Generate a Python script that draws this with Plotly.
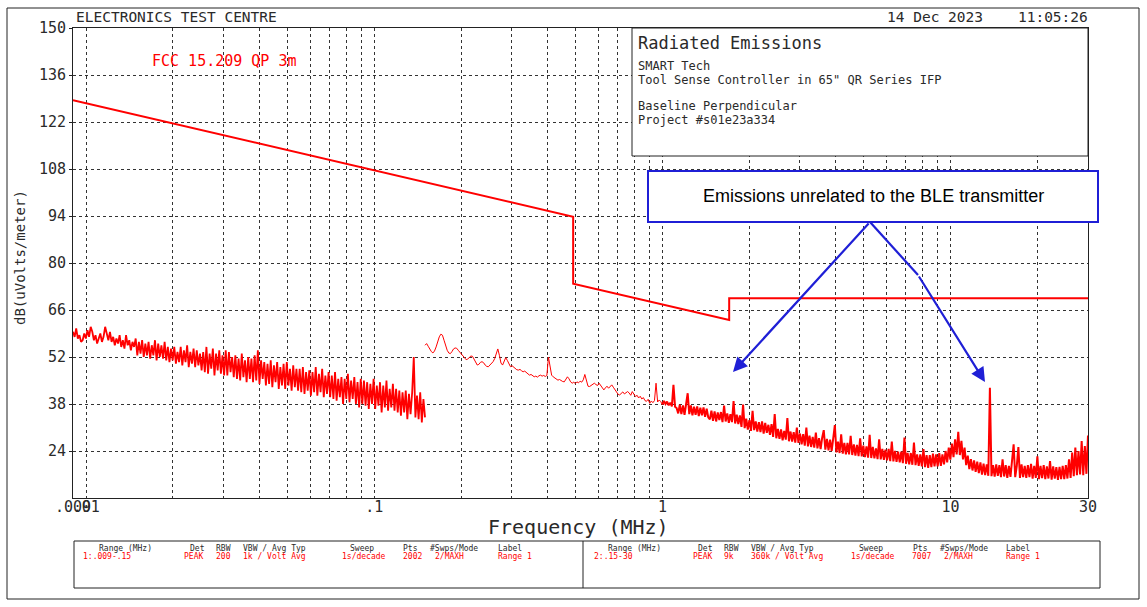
import numpy as np
import plotly.graph_objects as go

# ---------------- data ----------------
# sweep ranges (from the instrument table)
R1_START, R1_STOP = 0.009, 0.15
R2_START, R2_STOP = 0.15, 30.0

range1_level = [
    59.5, 58.0, 60.5, 57.5, 58.5, 56.5, 57.0, 59.0, 57.5, 60.0, 58.0, 61.0, 59.5, 57.0, 58.5, 56.0, 57.5, 59.0, 56.5, 58.0,
    61.0, 58.5, 57.0, 59.5, 56.5, 58.0, 55.5, 57.5, 56.0, 58.5, 55.0, 57.0, 54.5, 58.5, 55.5, 57.0, 54.0, 56.5, 55.0, 57.5,
    52.5, 56.5, 53.0, 57.0, 52.0, 56.0, 52.5, 56.5, 51.5, 55.5, 52.5, 57.0, 51.0, 56.0, 52.0, 55.5, 51.5, 56.5, 51.0, 55.0,
    50.5, 54.5, 51.0, 55.0, 50.0, 53.5, 50.5, 55.0, 49.5, 54.0, 50.5, 55.5, 49.0, 53.5, 50.0, 54.5, 49.0, 54.0, 49.5, 53.0,
    48.0, 53.5, 47.5, 55.0, 47.0, 53.0, 48.5, 54.5, 46.5, 53.0, 48.0, 54.0, 47.0, 52.5, 46.5, 54.0, 46.5, 53.5, 47.5, 52.0,
    46.0, 52.5, 45.5, 51.5, 45.0, 53.0, 46.0, 51.0, 44.5, 52.0, 45.5, 51.5, 44.5, 52.5, 45.0, 54.0, 44.0, 51.0, 45.5, 50.5,
    43.5, 50.0, 44.0, 51.0, 43.0, 49.5, 44.5, 50.5, 42.5, 49.0, 43.5, 50.0, 42.5, 50.5, 43.5, 48.5, 42.0, 49.5, 43.0, 48.5,
    42.0, 48.5, 41.5, 49.0, 41.0, 47.5, 42.0, 48.0, 40.5, 47.5, 41.5, 49.0, 40.5, 47.0, 41.5, 48.5, 40.0, 46.5, 41.0, 47.5,
    40.0, 46.5, 39.5, 47.5, 39.0, 45.5, 40.0, 46.0, 38.0, 45.5, 39.5, 47.0, 38.5, 45.0, 39.5, 46.0, 38.0, 44.5, 37.0, 45.5,
    38.0, 45.0, 37.5, 44.5, 36.5, 44.0, 38.0, 45.5, 36.5, 43.5, 37.5, 44.5, 35.5, 43.5, 37.0, 45.0, 36.0, 42.5, 37.0, 44.0,
    36.0, 42.5, 35.5, 42.0, 34.5, 41.5, 35.5, 42.0, 33.5, 41.0, 35.0, 41.5, 52.0, 34.0, 40.5, 33.5, 41.5, 32.5, 39.5, 34.0,
]

range2_level = [
    55.5, 56.0, 55.2, 54.3, 53.6, 53.2, 53.8, 55.0, 56.6, 58.0, 58.8, 58.5, 57.0, 55.2, 54.0, 53.2, 53.0, 53.6, 54.4, 54.7,
    54.6, 54.0, 53.4, 53.0, 52.5, 51.8, 51.2, 51.4, 51.9, 52.3, 52.2, 51.2, 50.3, 49.6, 49.8, 50.4, 50.6, 50.3, 49.6, 49.2,
    49.1, 49.6, 50.3, 50.6, 51.5, 53.0, 54.4, 52.5, 50.2, 49.6, 50.5, 51.8, 51.0, 49.8, 49.1, 49.4, 48.9, 48.5, 48.2, 48.1,
    48.3, 47.9, 47.6, 47.8, 47.3, 46.9, 46.6, 46.8, 46.4, 46.1, 46.3, 46.0, 46.4, 46.6, 46.3, 46.5, 46.2, 46.5, 52.0, 48.5,
    46.6, 46.1, 45.8, 45.4, 45.1, 45.3, 44.9, 44.7, 44.6, 45.2, 46.1, 45.5, 44.6, 44.2, 44.5, 44.1, 44.6, 44.3, 44.8, 44.5,
    45.2, 46.8, 45.0, 43.3, 43.2, 43.6, 43.9, 44.2, 43.8, 43.5, 44.2, 43.4, 42.6, 42.2, 42.8, 43.3, 42.7, 43.2, 43.7, 43.0,
    42.2, 41.5, 40.9, 40.7, 41.2, 41.6, 41.0, 41.4, 41.7, 41.3, 40.6, 41.7, 41.0, 40.2, 40.6, 39.8, 40.3, 39.5, 39.9, 39.0,
    38.8, 39.4, 38.2, 38.9, 38.4, 39.0, 44.2, 38.6, 39.2, 38.7, 37.8, 38.9, 38.0, 38.7, 37.6, 38.4, 37.3, 43.7, 37.2, 36.8,
    35.2, 37.8, 35.0, 37.6, 34.8, 37.4, 41.2, 35.0, 37.6, 34.6, 37.2, 34.8, 37.3, 34.4, 36.9, 34.6, 37.0, 34.2, 36.6, 34.0,
    33.4, 36.0, 33.0, 35.8, 32.8, 35.5, 33.2, 35.6, 32.6, 37.5, 32.8, 35.2, 32.4, 35.0, 32.6, 38.9, 32.2, 34.8, 32.0, 34.6,
    31.2, 37.8, 30.8, 33.6, 30.4, 33.2, 30.0, 36.0, 30.2, 32.8, 29.8, 32.6, 29.6, 32.8, 29.2, 32.4, 29.4, 31.8, 28.8, 32.0,
    28.2, 35.0, 27.8, 30.6, 27.6, 30.4, 27.2, 30.0, 27.4, 33.8, 26.9, 29.8, 26.8, 29.6, 26.5, 31.0, 26.4, 29.2, 26.0, 29.0,
    25.6, 31.0, 25.4, 28.6, 25.2, 28.2, 25.0, 29.5, 24.8, 27.8, 24.6, 28.0, 30.2, 24.4, 27.6, 24.2, 27.4, 24.0, 27.2, 31.7,
    23.6, 26.8, 23.4, 29.0, 23.2, 26.4, 23.0, 26.4, 23.0, 28.5, 22.8, 26.0, 22.6, 25.8, 22.5, 27.8, 22.4, 25.6, 22.2, 25.4,
    22.0, 28.8, 21.9, 25.2, 21.8, 24.8, 21.6, 27.5, 21.5, 24.6, 21.4, 24.4, 21.2, 24.6, 21.0, 26.8, 20.9, 24.0, 20.8, 23.8,
    20.6, 23.8, 20.4, 28.0, 20.2, 23.4, 20.0, 23.4, 19.9, 26.5, 19.8, 23.0, 19.6, 23.0, 19.4, 24.6, 19.2, 22.8, 19.0, 22.8,
    19.2, 23.2, 19.4, 23.0, 19.4, 23.4, 19.6, 23.0, 20.0, 24.0, 20.6, 25.0, 21.4, 26.2, 22.2, 27.5, 23.0, 29.7, 22.8, 27.0,
    21.5, 25.0, 19.8, 22.6, 18.6, 21.6, 18.2, 21.2, 17.8, 20.8, 17.4, 20.6, 17.0, 20.2, 16.8, 20.0, 16.6, 42.8, 16.5, 19.8,
    16.4, 20.0, 16.6, 19.8, 16.2, 21.5, 16.4, 19.8, 16.0, 19.6, 16.3, 22.0, 26.0, 16.2, 19.6, 25.2, 16.0, 20.0, 16.2, 19.6,
    16.0, 19.8, 16.2, 20.2, 15.8, 19.6, 16.0, 22.4, 15.6, 19.6, 15.9, 19.8, 15.6, 19.4, 15.8, 21.0, 15.5, 19.4, 15.8, 19.2,
    15.4, 19.3, 15.6, 19.6, 15.6, 19.8, 15.8, 21.5, 16.0, 23.5, 16.5, 25.0, 16.8, 24.0, 17.0, 27.0, 16.8, 25.5, 17.2, 28.6,
]

# FCC 15.209 QP 3 m limit line (vertices)
limit_freq = [0.009, 0.49, 0.49, 1.705, 1.705, 30.0]
limit_level = [128.5, 93.8, 73.8, 63.0, 69.5, 69.5]

# axis ticks
y_tick_vals = [24, 38, 52, 66, 80, 94, 108, 122, 136, 150]
x_tick_vals = [0.009, 0.01, 0.1, 1, 10, 30]
x_tick_text = [".009", ".01", ".1", "1", "10", "30"]

# ---------------- figure ----------------
range1_freq = np.geomspace(R1_START, R1_STOP, len(range1_level))
range2_freq = np.geomspace(R2_START, R2_STOP, len(range2_level))
SPLIT = 150  # where range 2 turns from a thin trace into the dense band (~1 MHz)

minor_vals = [m * 10.0 ** e for e in range(-3, 2) for m in range(1, 10)
              if 0.009 < m * 10.0 ** e < 30 and m != 1]

W, H = 1147, 607
L, R, T, B = 73, 1088, 28, 498


def px(x):
    return (x - L) / (R - L)


def py(y):
    return (B - y) / (B - T)


MONO = "DejaVu Sans Mono"
RED = "#ff0000"
BLUE = "#1f1fd6"
GRID = "#333333"
TXT = "#2a2a2a"
DASH = "3px,3px"

fig = go.Figure()
fig.add_trace(go.Scatter(x=range1_freq, y=range1_level, mode="lines",
                         line=dict(color=RED, width=1.8), showlegend=False))
fig.add_trace(go.Scatter(x=range2_freq[:SPLIT + 1], y=range2_level[:SPLIT + 1], mode="lines",
                         line=dict(color=RED, width=1), showlegend=False))
fig.add_trace(go.Scatter(x=range2_freq[SPLIT:], y=range2_level[SPLIT:], mode="lines",
                         line=dict(color=RED, width=2.0), showlegend=False))
fig.add_trace(go.Scatter(x=limit_freq, y=limit_level, mode="lines",
                         line=dict(color=RED, width=2), showlegend=False))

fig.update_xaxes(
    type="log", range=[np.log10(0.009), np.log10(30)],
    tickmode="array", tickvals=x_tick_vals, ticktext=x_tick_text, tickangle=0,
    tickfont=dict(family=MONO, size=15, color=TXT), ticklabelstandoff=-5,
    showgrid=True, gridcolor=GRID, griddash=DASH, gridwidth=1,
    minor=dict(tickvals=minor_vals, showgrid=True, gridcolor=GRID, griddash=DASH, gridwidth=1, ticks=""),
    showline=True, linecolor="#222", linewidth=1, mirror=True, zeroline=False, ticks="", ticklen=0,
)
fig.update_yaxes(
    range=[10, 150], tickmode="array", tickvals=y_tick_vals,
    tickfont=dict(family=MONO, size=15, color=TXT),
    showgrid=True, gridcolor=GRID, griddash=DASH, gridwidth=1,
    showline=True, linecolor="#222", linewidth=1, mirror=True, zeroline=False,
    ticks="outside", ticklen=3, tickcolor="#222",
)

shapes = []
# outer frame
shapes.append(dict(type="rect", xref="paper", yref="paper", x0=px(7), x1=px(1139), y0=py(8), y1=py(599),
                   line=dict(color="#222", width=1), fillcolor="rgba(0,0,0,0)", layer="below"))
# info box
shapes.append(dict(type="rect", xref="paper", yref="paper", x0=px(632), x1=px(1088), y0=py(28), y1=py(156),
                   line=dict(color="#222", width=1), fillcolor="white", layer="above"))
# blue callout box
shapes.append(dict(type="rect", xref="paper", yref="paper", x0=px(648), x1=px(1098), y0=py(171), y1=py(222),
                   line=dict(color=BLUE, width=2), fillcolor="white", layer="above"))
# first segment of bent arrow
shapes.append(dict(type="line", xref="paper", yref="paper", x0=px(870), y0=py(222), x1=px(918), y1=py(275),
                   line=dict(color=BLUE, width=2.2), layer="above"))
# bottom table
shapes.append(dict(type="rect", xref="paper", yref="paper", x0=px(74), x1=px(1100), y0=py(541), y1=py(588),
                   line=dict(color="#222", width=1), fillcolor="rgba(0,0,0,0)"))
shapes.append(dict(type="line", xref="paper", yref="paper", x0=px(583), x1=px(583), y0=py(541), y1=py(588),
                   line=dict(color="#222", width=1)))

ann = []


def text(x, y, s, size, color=TXT, xanchor="left", family=MONO, angle=0):
    ann.append(dict(x=px(x), y=py(y), xref="paper", yref="paper", text=s, showarrow=False,
                    xanchor=xanchor, yanchor="middle", textangle=angle,
                    font=dict(family=family, size=size, color=color)))


NB = "\u00a0"
text(74, 17, "ELECTRONICS TEST CENTRE", 14.5)
text(1090, 17, "14 Dec 2023" + NB * 4 + "11:05:26", 14.5, xanchor="right")
text(150, 61, "FCC 15.209 QP 3m", 15, color=RED)
text(636, 43, "Radiated Emissions", 17)
text(636, 66, "SMART Tech", 12)
text(636, 80, "Tool Sense Controller in 65\" QR Series IFP", 12)
text(636, 106, "Baseline Perpendicular", 12)
text(636, 120, "Project #s01e23a334", 12)
text(20, 258, "dB(uVolts/meter)", 14, xanchor="center", angle=-90)
text(578, 527, "Frequency (MHz)", 20, xanchor="center")
text(873, 196, "Emissions unrelated to the BLE transmitter", 18, color="#000",
     xanchor="center", family="Arial, Liberation Sans")

# table
hdr1 = [(97, "Range (MHz)"), (188, "Det"), (214, "RBW"), (241, "VBW / Avg Typ"), (348, "Sweep"),
        (401, "Pts"), (428, "#Swps/Mode"), (496, "Label")]
val1 = [(81, "1:.009-.15"), (182, "PEAK"), (214, "200"), (241, "1k / Volt Avg"), (340, "1s/decade"),
        (401, "2002"), (433, "2/MAXH"), (496, "Range 1")]
hdr2 = [(606, "Range (MHz)"), (696, "Det"), (722, "RBW"), (749, "VBW / Avg Typ"), (857, "Sweep"),
        (911, "Pts"), (938, "#Swps/Mode"), (1004, "Label")]
val2 = [(592, "2:.15-30"), (691, "PEAK"), (722, "9k"), (749, "360k / Volt Avg"), (849, "1s/decade"),
        (910, "7007"), (942, "2/MAXH"), (1004, "Range 1")]
for x, s in hdr1 + hdr2:
    text(x, 548, s, 8)
for x, s in val1 + val2:
    text(x, 556, s, 8, color=RED)

# arrows
ann.append(dict(x=px(733), y=py(372), xref="paper", yref="paper", text="", showarrow=True,
                ax=870 - 733, ay=222 - 372, axref="pixel", ayref="pixel",
                arrowhead=2, arrowsize=1.3, arrowwidth=2.2, arrowcolor=BLUE, standoff=0))
ann.append(dict(x=px(985), y=py(382), xref="paper", yref="paper", text="", showarrow=True,
                ax=918 - 985, ay=275 - 382, axref="pixel", ayref="pixel",
                arrowhead=2, arrowsize=1.3, arrowwidth=2.2, arrowcolor=BLUE, standoff=0))

fig.update_layout(
    width=W, height=H,
    margin=dict(l=L, r=W - R, t=T, b=H - B, autoexpand=False),
    paper_bgcolor="white", plot_bgcolor="white",
    shapes=shapes, annotations=ann, showlegend=False,
    font=dict(family=MONO, color=TXT),
)

fig.write_html("out.html", config={"displayModeBar": False},
               post_script="document.body.style.margin='0';document.body.style.overflow='hidden';")
